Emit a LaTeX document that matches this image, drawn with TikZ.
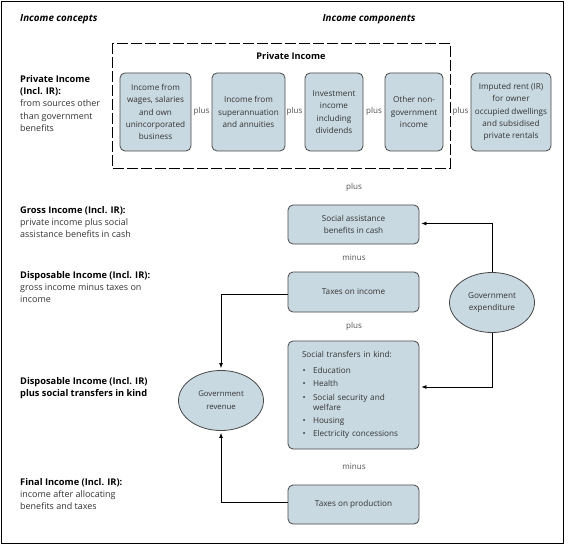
\documentclass[tikz,border=0pt]{standalone}
\usepackage{fontspec}
\setmainfont{Open Sans}
\usetikzlibrary{shapes.geometric,arrows.meta}
\definecolor{boxfill}{HTML}{C9D9E1}
\definecolor{boxline}{HTML}{474747}
\definecolor{txt}{HTML}{333333}
\tikzset{
  compbox/.style={draw=boxline,fill=boxfill,line width=0.8bp,rounded corners=5bp,
    align=center,text=txt,inner sep=1bp,font=\fontsize{8.2}{12.3}\selectfont},
  govell/.style={ellipse,draw=boxline,fill=boxfill,line width=0.8bp,inner sep=0pt,
    minimum width=85bp,minimum height=60bp,align=center,text=txt,font=\fontsize{8.2}{13}\selectfont},
  oplabel/.style={text=txt!85,font=\fontsize{8.1}{9}\selectfont,inner sep=0pt},
  concept/.style={anchor=north west,align=left,inner sep=0pt,font=\fontsize{9}{12.3}\selectfont,text=txt},
  header/.style={font=\fontsize{9.8}{11}\selectfont\bfseries\itshape,inner sep=0pt},
  flow/.style={line width=0.8bp,-{Latex[length=5bp,width=4bp]},shorten >=2bp},
}
\newcommand{\ctit}[1]{{\fontsize{9.3}{12.3}\selectfont\bfseries\color{black}#1}}
\begin{document}
\begin{tikzpicture}[x=1bp,y=-1bp]
\useasboundingbox (0,0) rectangle (568,546);
\draw[line width=0.9bp] (1,1) rectangle (563,543);

% headers
\node[header,anchor=west] (hconc) at (20,19) {Income concepts};
\node[header] (hcomp) at (369,19) {Income components};

% dashed private income box
\draw[dash pattern=on 11bp off 3bp,line width=0.8bp] (112,43) rectangle (450,168);
\node[font=\fontsize{9.2}{10}\selectfont\bfseries,inner sep=0pt] (pihead) at (291,56) {Private Income};

% component boxes
\node[compbox,minimum width=71bp,minimum height=78bp] (b1) at (155.5,112)
  {Income from\\wages, salaries\\and own\\unincorporated\\business};
\node[compbox,minimum width=73bp,minimum height=78bp] (b2) at (248.5,112)
  {Income from\\superannuation\\and annuities};
\node[compbox,minimum width=58bp,minimum height=78bp] (b3) at (334,112)
  {Investment\\income\\including\\dividends};
\node[compbox,minimum width=58bp,minimum height=78bp] (b4) at (414,112)
  {Other non-\\government\\income};
\node[compbox,minimum width=80bp,minimum height=78bp] (b5) at (511,112)
  {Imputed rent (IR)\\for owner\\occupied dwellings\\and subsidised\\private rentals};

\node[oplabel] (p1) at (201.5,111) {plus};
\node[oplabel] (p2) at (294.5,111) {plus};
\node[oplabel] (p3) at (374,111) {plus};
\node[oplabel] (p4) at (460.5,111) {plus};

% vertical sequence
\node[oplabel] (p5) at (354,187) {plus};
\node[compbox,minimum width=131bp,minimum height=39bp] (sab) at (353.5,224.5)
  {Social assistance\\benefits in cash};
\node[oplabel] (m1) at (354,258) {minus};
\node[compbox,minimum width=131bp,minimum height=40bp] (tinc) at (353.5,292)
  {Taxes on income};
\node[oplabel] (p6) at (354,326) {plus};
\node[compbox,minimum width=131bp,minimum height=108bp,align=left,text width=103bp,inner xsep=14bp,inner ysep=0pt] (stk) at (353.5,395)
  {\raisebox{3bp}{Social transfers in kind:}\\[1bp]
   \makebox[11bp][l]{\hspace{0.5bp}\textbullet}Education\\[1bp]
   \makebox[11bp][l]{\hspace{0.5bp}\textbullet}Health\\[1bp]
   \makebox[11bp][l]{\hspace{0.5bp}\textbullet}Social security and\\[-2bp]
   \makebox[11bp][l]{}welfare\\[1bp]
   \makebox[11bp][l]{\hspace{0.5bp}\textbullet}Housing\\[1bp]
   \makebox[11bp][l]{\hspace{0.5bp}\textbullet}Electricity concessions};
\node[oplabel] (m2) at (354,467) {minus};
\node[compbox,minimum width=131bp,minimum height=39bp] (tprod) at (353.5,504.5)
  {Taxes on production};

% ellipses
\node[govell] (gexp) at (492,302.5) {Government\\expenditure};
\node[govell,font=\fontsize{7.8}{13}\selectfont] (grev) at (221,400.5) {Government\\revenue};

% connectors
\draw[flow] (gexp.north) |- ([yshift=1bp]sab.east);
\draw[flow] (gexp.south) |- ([yshift=8bp]stk.east);
\draw[flow] ([yshift=-2bp]tinc.west) -| (grev.north);
\draw[flow] ([yshift=2bp]tprod.west) -| (grev.south);

% concepts column
\node[concept] (c1) at (20,75) {\ctit{Private Income}\\\ctit{(Incl. IR):}\\from sources other\\than government\\benefits};
\node[concept] (c2) at (20,206) {\ctit{Gross Income (Incl. IR):}\\private income plus social\\assistance benefits in cash};
\node[concept] (c3) at (20,271) {\ctit{Disposable Income (Incl. IR):}\\gross income minus taxes on\\income};
\node[concept] (c4) at (20,377) {\ctit{Disposable Income (Incl. IR)}\\\ctit{plus social transfers in kind}};
\node[concept] (c5) at (20,478) {\ctit{Final Income (Incl. IR):}\\income after allocating\\benefits and taxes};
\end{tikzpicture}
\end{document}
